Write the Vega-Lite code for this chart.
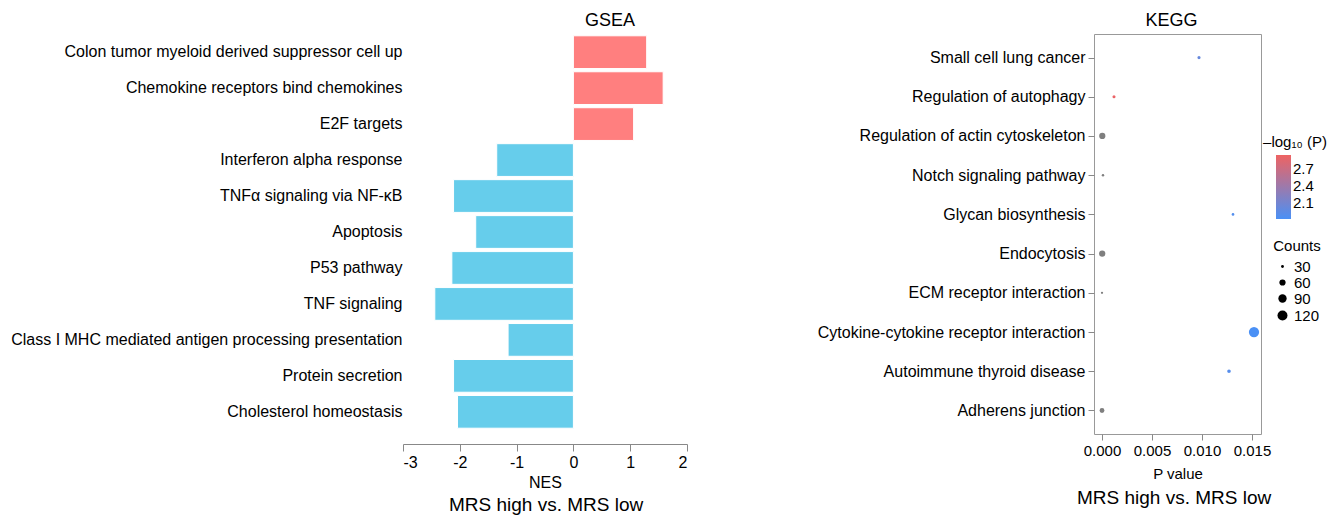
{
  "$schema": "https://vega.github.io/schema/vega-lite/v6.json",
  "padding": {"left": 10, "top": 11, "right": 0, "bottom": 0},
  "config": {
    "font": "Liberation Sans",
    "view": {"stroke": null},
    "scale": {"invalid": {"color": {"value": "#7F7F7F"}}},
    "axis": {"labelFont": "Liberation Sans", "titleFont": "Liberation Sans", "labelColor": "black", "titleColor": "black", "titleFontWeight": "normal", "grid": false},
    "title": {"font": "Liberation Sans", "fontWeight": "normal", "color": "black"},
    "legend": {"labelFont": "Liberation Sans", "titleFont": "Liberation Sans", "titleFontWeight": "normal", "labelColor": "black", "titleColor": "black"}
  },
  "resolve": {"scale": {"size": "independent", "color": "independent"}, "legend": {"size": "independent", "color": "independent"}},
  "spacing": 128,
  "hconcat": [
    {
      "title": {"text": "MRS high vs. MRS low", "orient": "bottom", "fontSize": 19, "anchor": "middle", "dx": 197, "offset": 6},
      "vconcat": [
        {
          "width": 284,
          "height": 396,
          "title": {"text": "GSEA", "fontSize": 18, "anchor": "middle", "frame": "group", "dx": 65, "offset": 4},
          "data": {"values": [
            {"pathway": "Colon tumor myeloid derived suppressor cell up", "NES": 1.29, "group": "up"},
            {"pathway": "Chemokine receptors bind chemokines", "NES": 1.58, "group": "up"},
            {"pathway": "E2F targets", "NES": 1.06, "group": "up"},
            {"pathway": "Interferon alpha response", "NES": -1.35, "group": "down"},
            {"pathway": "TNFα signaling via NF-κB", "NES": -2.11, "group": "down"},
            {"pathway": "Apoptosis", "NES": -1.72, "group": "down"},
            {"pathway": "P53 pathway", "NES": -2.14, "group": "down"},
            {"pathway": "TNF signaling", "NES": -2.44, "group": "down"},
            {"pathway": "Class I MHC mediated antigen processing presentation", "NES": -1.15, "group": "down"},
            {"pathway": "Protein secretion", "NES": -2.11, "group": "down"},
            {"pathway": "Cholesterol homeostasis", "NES": -2.04, "group": "down"}
          ]},
          "mark": {"type": "bar", "stroke": "white", "strokeWidth": 1},
          "encoding": {
            "y": {"field": "pathway", "type": "nominal", "sort": null,
                  "scale": {"paddingInner": 0.09, "paddingOuter": 0.05},
                  "axis": {"title": null, "ticks": false, "domain": false, "labelFontSize": 16, "labelPadding": 1, "labelLimit": 600}},
            "x": {"field": "NES", "type": "quantitative",
                  "scale": {"domain": [-3, 2], "nice": false},
                  "axis": {"values": [-3, -2, -1, 0, 1, 2], "labelExpr": "'' + datum.value", "title": "NES", "offset": 14, "tickSize": 7,
                           "domainColor": "#888888", "tickColor": "#888888", "labelFontSize": 16, "titleFontSize": 16, "labelPadding": 3, "titlePadding": 4}},
            "color": {"field": "group", "type": "nominal", "scale": {"domain": ["up", "down"], "range": ["#FF7F7F", "#66CDEB"]}, "legend": null}
          }
        }
      ]
    },
    {
      "title": {"text": "MRS high vs. MRS low", "orient": "bottom", "fontSize": 19, "anchor": "middle", "dx": 102, "offset": 7},
      "resolve": {"scale": {"size": "independent", "color": "independent"}, "legend": {"size": "independent", "color": "independent"}},
      "vconcat": [
        {
          "width": 167,
          "height": 400,
          "view": {"stroke": "#999999", "strokeWidth": 1},
          "title": {"text": "KEGG", "fontSize": 18, "anchor": "middle", "frame": "group", "dx": -6, "offset": 4},
          "data": {"values": [
            {"pathway": "Small cell lung cancer", "P": 0.0097, "logp": 2.01, "Counts": 32},
            {"pathway": "Regulation of autophagy", "P": 0.0012, "logp": 2.92, "Counts": 31},
            {"pathway": "Regulation of actin cytoskeleton", "P": 0.00003, "logp": null, "Counts": 60},
            {"pathway": "Notch signaling pathway", "P": 0.0001, "logp": null, "Counts": 28},
            {"pathway": "Glycan biosynthesis", "P": 0.0131, "logp": 1.88, "Counts": 29},
            {"pathway": "Endocytosis", "P": 0.00002, "logp": null, "Counts": 60},
            {"pathway": "ECM receptor interaction", "P": 0.0000, "logp": null, "Counts": 27},
            {"pathway": "Cytokine-cytokine receptor interaction", "P": 0.0152, "logp": 1.82, "Counts": 125},
            {"pathway": "Autoimmune thyroid disease", "P": 0.0127, "logp": 1.9, "Counts": 35},
            {"pathway": "Adherens junction", "P": 0.0000, "logp": null, "Counts": 45}
          ]},
          "mark": {"type": "circle", "opacity": 1, "invalid": "show", "color": "black"},
          "encoding": {
            "y": {"field": "pathway", "type": "nominal", "sort": null,
                  "scale": {"padding": 0.6},
                  "axis": {"title": null, "domain": false, "tickSize": 6, "tickColor": "#888888", "labelFontSize": 16, "labelPadding": 3, "labelLimit": 600}},
            "x": {"field": "P", "type": "quantitative",
                  "scale": {"domain": [-0.0008, 0.0159], "nice": false, "zero": false},
                  "axis": {"values": [0, 0.005, 0.01, 0.015], "format": ".3f", "title": "P value", "domain": false, "tickSize": 6,
                           "tickColor": "#888888", "labelFontSize": 15, "titleFontSize": 15, "labelPadding": 3, "titlePadding": 8}},
            "size": {"field": "Counts", "type": "quantitative",
                     "scale": {"domain": [22, 130], "range": [0, 110], "zero": false},
                     "legend": {"values": [30, 60, 90, 120], "title": "Counts", "orient": "none", "legendX": 179, "legendY": 205,
                                "direction": "vertical", "symbolType": "circle", "symbolFillColor": "black", "symbolStrokeColor": "black",
                                "titleAnchor": "middle",
                                "labelFontSize": 15, "titleFontSize": 15, "rowPadding": 0, "labelOffset": 4}},
            "color": {"field": "logp", "type": "quantitative",
                      "scale": {"domain": [1.82, 2.95], "range": ["#4A90F5", "#EE6363"], "interpolate": "rgb"},
                      "legend": {"title": "–log₁₀ (P)", "orient": "none", "legendX": 169, "legendY": 101, "direction": "vertical",
                                 "values": [2.1, 2.4, 2.7], "gradientLength": 64, "gradientThickness": 15, "titleAnchor": "middle",
                                 "labelFontSize": 15, "titleFontSize": 15}}
          }
        }
      ]
    }
  ]
}
